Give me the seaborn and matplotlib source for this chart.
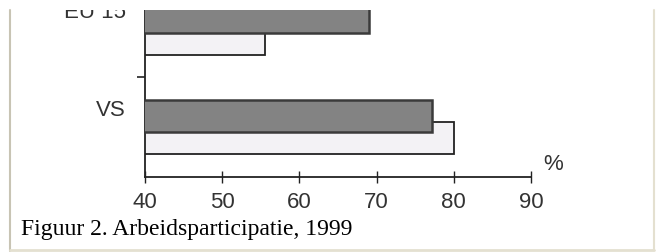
import pandas as pd
import numpy as np
import seaborn as sns
import matplotlib.pyplot as plt
from matplotlib.lines import Line2D
from matplotlib.patches import Rectangle

# data
landen = ['EU 15', 'VS']
serie_donker = [69.0, 77.2]
serie_licht = [55.5, 80.0]
x_ticks = [40, 50, 60, 70, 80, 90]
titel = 'Figuur 2. Arbeidsparticipatie, 1999'

df = pd.DataFrame({'land': landen, 'donker': serie_donker, 'licht': serie_licht})

sns.set_style('white')
plt.rcParams['font.family'] = ['Liberation Sans', 'DejaVu Sans']

fig = plt.figure(figsize=(6.56, 2.52), dpi=100)
ax = fig.add_axes([145 / 656, 1 - 177 / 252, (531 - 145) / 656, (177 - 10) / 252])

bar_h = 0.323
# light bars first, dark ones overlap on top
sns.barplot(data=df, y='land', x='licht', orient='h', color='#f3f2f5', width=bar_h,
            edgecolor='#222222', linewidth=1.3, saturation=1, ax=ax, zorder=2)
n = len(ax.patches)
sns.barplot(data=df, y='land', x='donker', orient='h', color='#838383', width=bar_h,
            edgecolor='#3a3a3a', linewidth=1.8, saturation=1, ax=ax, zorder=3)
for i, p in enumerate(ax.patches):
    shift = 0.298 if i < n else 0.074
    p.set_y(p.get_y() + shift)

ax.set_xlim(40, 90)
ax.set_ylim(1.697, 0.0101)
ax.set_xticks(x_ticks)
ax.set_xticklabels([str(t) for t in x_ticks])
ax.set_yticks(range(len(landen)))
ax.set_yticklabels(landen)
ax.set_yticks([0.684], minor=True)
ax.set_xlabel('')
ax.set_ylabel('')

for s in ['top', 'right']:
    ax.spines[s].set_visible(False)
for s in ['left', 'bottom']:
    ax.spines[s].set_color('#222222')
    ax.spines[s].set_linewidth(1.3)

ax.tick_params(axis='x', direction='inout', length=9, width=1, color='#222222',
               labelsize=16, labelcolor='#333333', pad=6.5, bottom=True)
ax.tick_params(axis='y', which='major', length=0, labelsize=16, labelcolor='#333333', pad=14)
ax.tick_params(axis='y', which='minor', direction='out', length=6, width=1.2,
               color='#222222', left=True)

fig.text(553 / 656, 1 - 164 / 252, '%', ha='center', va='center', fontsize=16, color='#333333')
fig.text(21 / 656, 1 - 235 / 252, titel, ha='left', va='baseline', fontsize=17,
         family='Liberation Serif', color='black')

# white strip over the cut-off top and the page frame
fig.add_artist(Rectangle((0, 1 - 10 / 252), 1, 10 / 252, transform=fig.transFigure,
                         facecolor='white', edgecolor='none', zorder=10))
fig.add_artist(Line2D([10 / 656, 10 / 656], [1 / 252, 1 - 10 / 252], transform=fig.transFigure,
                      color='#c8c4b4', linewidth=1.5, zorder=11))
fig.add_artist(Line2D([10 / 656, 654 / 656], [2 / 252, 2 / 252], transform=fig.transFigure,
                      color='#e4e0d0', linewidth=2, zorder=11))
fig.add_artist(Line2D([654 / 656, 654 / 656], [2 / 252, 1 - 10 / 252], transform=fig.transFigure,
                      color='#e4e0d0', linewidth=1.5, zorder=11))

fig.savefig('out.png', dpi=100)
